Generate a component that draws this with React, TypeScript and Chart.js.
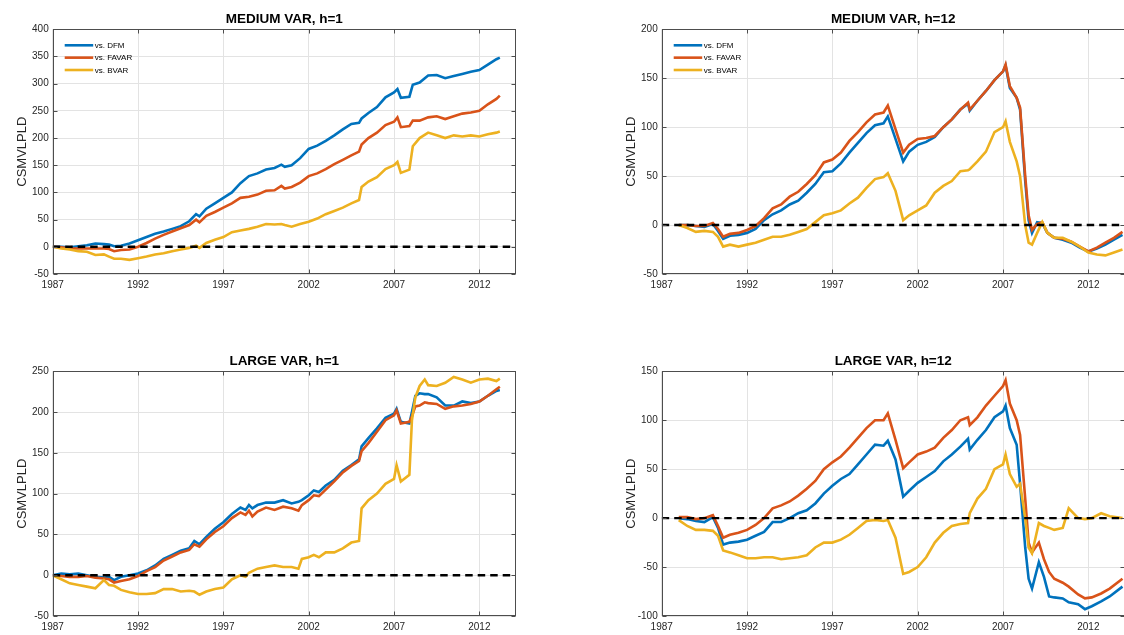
import React, { useEffect, useRef } from 'react';
import { Chart, registerables } from 'chart.js';

Chart.register(...registerables);

const FONT = "'Liberation Sans', Arial, Helvetica, sans-serif";

const xTickYears = [1987, 1992, 1997, 2002, 2007, 2012];
const seriesLabels = ['vs. DFM', 'vs. FAVAR', 'vs. BVAR'];
const seriesColors = ['#0072BD', '#D95319', '#EDB120'];
const yLabel = 'CSMVLPLD';
const xMin = 1987;
const xMax = 2014.13;

// ---------- MEDIUM VAR, h=1 ----------
const medH1Dates = [1987, 1987.5, 1988, 1988.5, 1989, 1989.5, 1990, 1990.3, 1990.6, 1991, 1991.5, 1992, 1992.5, 1993, 1993.5, 1994, 1994.5, 1995, 1995.4, 1995.6, 1996, 1996.5, 1997, 1997.5, 1998, 1998.5, 1999, 1999.5, 2000, 2000.4, 2000.6, 2001, 2001.5, 2002, 2002.5, 2003, 2003.5, 2004, 2004.5, 2004.95, 2005.1, 2005.5, 2006, 2006.5, 2007, 2007.2, 2007.4, 2007.9, 2008.1, 2008.5, 2009, 2009.5, 2010, 2010.5, 2011, 2011.5, 2012, 2012.5, 2013, 2013.2];
const medH1DFM = [0, 0, -1, 1, 3, 6, 5, 4, 1, 2, 6, 12, 18, 24, 28, 33, 38, 47, 60, 56, 70, 80, 90, 100, 117, 130, 135, 142, 145, 151, 147, 150, 163, 180, 186, 195, 205, 216, 226, 228, 236, 246, 257, 275, 284, 290, 274, 276, 298, 302, 315, 316, 310, 314, 318, 322, 325, 335, 345, 348];
const medH1FAVAR = [0, -1, -3, -3, -3, -3, -3, -4, -8, -6, -5, 0, 7, 15, 22, 28, 34, 40, 50, 45, 57, 64, 72, 80, 90, 92, 96, 103, 104, 112, 107, 110, 118, 130, 135, 143, 152, 160, 168, 175, 188, 200, 210, 224, 230, 238, 220, 222, 232, 232, 238, 240, 235, 240, 245, 247, 250, 262, 272, 278];
const medH1BVAR = [0, -3, -5, -8, -9, -15, -14, -18, -22, -22, -24, -21, -18, -14, -12, -8, -5, -2, 2, -2, 7, 13, 18, 27, 30, 33, 37, 42, 41, 42, 40, 37, 42, 46, 52, 60, 66, 72, 80, 86, 110, 120, 128, 143, 150, 156, 136, 142, 185, 200, 210, 205, 200, 205, 203, 205, 203, 207, 210, 212];

// ---------- MEDIUM VAR, h=12 ----------
const medH12Dates = [1988, 1988.5, 1989, 1989.5, 1990, 1990.3, 1990.6, 1991, 1991.5, 1992, 1992.5, 1993, 1993.5, 1994, 1994.5, 1995, 1995.5, 1996, 1996.5, 1997, 1997.5, 1998, 1998.5, 1999, 1999.5, 2000, 2000.25, 2000.7, 2001.15, 2001.5, 2002, 2002.5, 2003, 2003.5, 2004, 2004.5, 2004.95, 2005.05, 2005.5, 2006, 2006.5, 2007, 2007.15, 2007.4, 2007.8, 2008, 2008.3, 2008.5, 2008.7, 2009, 2009.3, 2009.6, 2010, 2010.5, 2011, 2011.5, 2012, 2012.5, 2013, 2013.5, 2014];
const medH12DFM = [0, 0, -1, -2, 1, -6, -14, -11, -10, -8, -4, 5, 11, 15, 21, 25, 33, 42, 54, 55, 63, 74, 84, 94, 102, 104, 111, 88, 65, 75, 82, 85, 90, 100, 108, 118, 124, 117, 127, 137, 148, 157, 163, 140, 130, 118, 45, 5, -8, 3, 2, -8, -13, -15, -18, -23, -27, -24, -20, -15, -10];
const medH12FAVAR = [0, 0, -1, -1, 2, -4, -12, -9, -8, -5, -1, 7, 17, 21, 29, 34, 42, 51, 64, 67, 74, 86, 95, 105, 113, 115, 122, 98, 74, 82, 88, 89, 91, 100, 108, 118, 125, 118, 127, 137, 148, 157, 164, 142, 130, 120, 50, 10, -5, 1, 3, -8, -13, -14, -17, -22, -27, -23, -18, -13, -7];
const medH12BVAR = [0, -3, -7, -6, -7, -12, -22, -20, -22, -20, -18, -15, -12, -12, -10, -7, -4, 3, 10, 12, 15, 22, 28, 38, 47, 49, 53, 35, 5, 10, 15, 20, 33, 40, 45, 55, 56, 57, 65, 75, 95, 100, 106, 85, 65, 50, 0, -18, -20, -8, 3, -8, -13, -13, -17, -22, -28, -30, -31, -28, -25];

// ---------- LARGE VAR, h=1 ----------
const largeH1Dates = [1987, 1987.5, 1988, 1988.5, 1989, 1989.5, 1990, 1990.3, 1990.6, 1991, 1991.5, 1992, 1992.5, 1993, 1993.5, 1994, 1994.5, 1995, 1995.3, 1995.6, 1996, 1996.5, 1997, 1997.5, 1998, 1998.3, 1998.5, 1998.7, 1999, 1999.5, 2000, 2000.5, 2001, 2001.4, 2001.6, 2002, 2002.3, 2002.6, 2003, 2003.5, 2004, 2004.5, 2004.95, 2005.1, 2005.5, 2006, 2006.5, 2007, 2007.15, 2007.4, 2007.9, 2008.05, 2008.25, 2008.5, 2008.8, 2009, 2009.5, 2010, 2010.5, 2011, 2011.5, 2012, 2012.5, 2013, 2013.2];
const largeH1DFM = [0, 2, 1, 2, 0, -2, -3, -2, -6, -2, 0, 2, 6, 12, 20, 25, 30, 33, 42, 38, 47, 57, 65, 75, 83, 80, 86, 82, 86, 89, 89, 92, 88, 90, 92, 98, 104, 102, 110, 117, 128, 135, 142, 158, 168, 180, 193, 198, 204, 188, 186, 200, 220, 223, 222, 222, 218, 208, 208, 213, 211, 213, 220, 226, 227];
const largeH1FAVAR = [0, -1, -2, -2, -1, -3, -4, -5, -9, -7, -5, -1, 5, 10, 18, 23, 28, 31, 38, 35, 44, 53, 60, 70, 77, 74, 79, 72, 78, 83, 80, 84, 82, 79, 86, 92, 98, 97, 105, 115, 126, 134, 140, 152, 162, 176, 190, 196, 202, 186, 188, 195, 207, 208, 212, 211, 210, 204, 207, 208, 210, 213, 220, 228, 231];
const largeH1BVAR = [0, -5, -10, -12, -14, -16, -6, -12, -13, -18, -21, -23, -23, -22, -17, -17, -20, -19, -20, -24, -20, -17, -15, -5, 0, -2, 3, 5, 8, 10, 12, 10, 10, 8, 20, 22, 25, 22, 28, 28, 33, 40, 42, 82, 92, 100, 112, 118, 135, 115, 123, 190, 218, 232, 240, 233, 232, 236, 243, 240, 236, 240, 241, 238, 241];

// ---------- LARGE VAR, h=12 ----------
const largeH12Dates = [1988, 1988.5, 1989, 1989.5, 1990, 1990.3, 1990.6, 1991, 1991.5, 1992, 1992.5, 1993, 1993.5, 1994, 1994.5, 1995, 1995.5, 1996, 1996.5, 1997, 1997.5, 1998, 1998.5, 1999, 1999.5, 2000, 2000.25, 2000.7, 2001.15, 2001.5, 2002, 2002.5, 2003, 2003.5, 2004, 2004.5, 2004.95, 2005.05, 2005.5, 2006, 2006.5, 2007, 2007.15, 2007.4, 2007.8, 2008, 2008.3, 2008.5, 2008.7, 2009.1, 2009.4, 2009.7, 2010, 2010.5, 2010.85, 2011.4, 2011.8, 2012.2, 2012.75, 2013.25, 2014];
const largeH12DFM = [0, -1, -3, -4, 1, -10, -27, -25, -24, -22, -18, -14, -4, -4, 0, 5, 8, 15, 25, 33, 40, 45, 55, 65, 75, 74, 79, 60, 22, 28, 36, 42, 48, 58, 65, 73, 81, 70, 80, 90, 103, 109, 115, 92, 75, 35, -30, -62, -72, -45, -60, -80, -81, -82, -86, -88, -93, -90, -85, -80, -70];
const largeH12FAVAR = [1, 1, -1, 0, 3, -8, -20, -17, -15, -12, -7, 0, 10, 13, 17, 23, 30, 38, 50, 57, 63, 72, 82, 92, 100, 100, 107, 80, 51, 57, 65, 68, 72, 82, 90, 100, 103, 95, 103, 115, 125, 135, 141, 117, 100, 85, 20, -25, -35, -25, -42, -55, -62, -66, -70, -78, -82, -81, -77, -72, -62];
const largeH12BVAR = [-2, -8, -12, -12, -13, -18, -33, -35, -38, -41, -41, -40, -40, -42, -41, -40, -38, -30, -25, -25, -22, -17, -10, -3, -2, -3, -2, -20, -57, -55, -50, -40, -25, -15, -8, -6, -5, 5, 20, 30, 50, 55, 65, 45, 32, 35, 0, -30, -36, -5, -8, -10, -12, -10, 10, 0, -1, 0, 5, 2, 0];

type PanelSpec = {
  title: string;
  dates: number[];
  series: number[][];
  yMin: number;
  yMax: number;
  legend: boolean;
  left: number;
  top: number;
};

const panels: PanelSpec[] = [
  { title: 'MEDIUM VAR, h=1', dates: medH1Dates, series: [medH1DFM, medH1FAVAR, medH1BVAR], yMin: -50, yMax: 400, legend: true, left: 0, top: 0 },
  { title: 'MEDIUM VAR, h=12', dates: medH12Dates, series: [medH12DFM, medH12FAVAR, medH12BVAR], yMin: -50, yMax: 200, legend: true, left: 609, top: 0 },
  { title: 'LARGE VAR, h=1', dates: largeH1Dates, series: [largeH1DFM, largeH1FAVAR, largeH1BVAR], yMin: -50, yMax: 250, legend: false, left: 0, top: 342 },
  { title: 'LARGE VAR, h=12', dates: largeH12Dates, series: [largeH12DFM, largeH12FAVAR, largeH12BVAR], yMin: -100, yMax: 150, legend: false, left: 609, top: 342 },
];

const CW = 530;
const CH = 300;

const framePlugin = {
  id: 'matlabFrame',
  afterDraw(chart: any) {
    const { ctx, chartArea: a, scales } = chart;
    ctx.save();
    ctx.strokeStyle = '#4d4d4d';
    ctx.lineWidth = 1;
    const L = Math.round(a.left) + 0.5;
    const R = Math.round(a.right) - 0.5;
    const T = Math.round(a.top) + 0.5;
    const B = Math.round(a.bottom) - 0.5;
    ctx.strokeRect(L, T, R - L, B - T);
    ctx.beginPath();
    scales.x.ticks.forEach((t: any) => {
      const p = Math.round(scales.x.getPixelForValue(t.value)) + 0.5;
      ctx.moveTo(p, B); ctx.lineTo(p, B - 4);
      ctx.moveTo(p, T); ctx.lineTo(p, T + 4);
    });
    scales.y.ticks.forEach((t: any) => {
      const p = Math.round(scales.y.getPixelForValue(t.value)) + 0.5;
      ctx.moveTo(L, p); ctx.lineTo(L + 4, p);
      ctx.moveTo(R, p); ctx.lineTo(R - 4, p);
    });
    ctx.stroke();
    ctx.restore();
  },
};

function makeLegendPlugin(show: boolean) {
  return {
    id: 'inlineLegend',
    afterDraw(chart: any) {
      if (!show) return;
      const { ctx, chartArea: a } = chart;
      ctx.save();
      ctx.font = `8px ${FONT}`;
      ctx.textBaseline = 'middle';
      ctx.textAlign = 'left';
      const items = chart.data.datasets.filter((d: any) => d.label);
      items.forEach((d: any, i: number) => {
        const y = a.top + 16 + i * 12.35;
        ctx.strokeStyle = d.borderColor;
        ctx.lineWidth = 2.6;
        ctx.beginPath();
        ctx.moveTo(a.left + 12, y);
        ctx.lineTo(a.left + 40.5, y);
        ctx.stroke();
        ctx.fillStyle = '#000';
        ctx.fillText(d.label, a.left + 42, y + 0.5);
      });
      ctx.restore();
    },
  };
}

function Panel({ spec }: { spec: PanelSpec }) {
  const ref = useRef<HTMLCanvasElement | null>(null);
  useEffect(() => {
    if (!ref.current) return;
    const lineSets = spec.series.map((vals, i) => ({
      label: seriesLabels[i],
      data: spec.dates.map((x, j) => ({ x, y: vals[j] })),
      borderColor: seriesColors[i],
      backgroundColor: seriesColors[i],
      borderWidth: 2.6,
      pointRadius: 0,
      tension: 0,
      fill: false,
      order: 3 - i,
    }));
    const zeroSet = {
      label: '',
      data: [{ x: xMin, y: 0 }, { x: xMax, y: 0 }],
      borderColor: '#000',
      borderWidth: 2.4,
      borderDash: [7.5, 5],
      pointRadius: 0,
      fill: false,
      order: 0,
    };
    const chart = new Chart(ref.current, {
      type: 'line',
      data: { datasets: [...lineSets, zeroSet] as any },
      options: {
        animation: false,
        responsive: false,
        maintainAspectRatio: false,
        layout: { padding: { left: 0, right: CW - 515.7, top: 0, bottom: 0 } },
        plugins: {
          legend: { display: false },
          tooltip: { enabled: false },
          title: {
            display: true,
            fullSize: false,
            text: spec.title,
            color: '#000',
            font: { family: FONT, size: 13.5, weight: 'bold' },
            padding: { top: 10.7, bottom: 2.4 },
          },
        },
        scales: {
          x: {
            type: 'linear',
            min: xMin,
            max: xMax,
            afterBuildTicks: (s: any) => {
              s.ticks = xTickYears.map((v) => ({ value: v }));
            },
            afterFit: (s: any) => {
              s.height = 26;
            },
            ticks: {
              autoSkip: false,
              maxRotation: 0,
              padding: 5,
              color: '#262626',
              font: { family: FONT, size: 10 },
              callback: (v: any) => String(v),
            },
            grid: { color: '#e3e3e3', drawTicks: false },
            border: { display: false },
          },
          y: {
            type: 'linear',
            min: spec.yMin,
            max: spec.yMax,
            afterFit: (s: any) => {
              s.width = 52.7;
            },
            ticks: {
              stepSize: 50,
              padding: 4,
              color: '#262626',
              font: { family: FONT, size: 10 },
              callback: (v: any) => String(v),
            },
            grid: { color: '#e3e3e3', drawTicks: false },
            border: { display: false },
            title: {
              display: true,
              text: yLabel,
              color: '#262626',
              font: { family: FONT, size: 13 },
              padding: { top: 14.5, bottom: 0 },
            },
          },
        },
      } as any,
      plugins: [framePlugin, makeLegendPlugin(spec.legend)],
    });
    return () => chart.destroy();
  }, [spec]);
  return (
    <canvas
      ref={ref}
      width={CW}
      height={CH}
      style={{ position: 'absolute', left: spec.left, top: spec.top, width: CW, height: CH }}
    />
  );
}

export default function App() {
  return (
    <div
      style={{
        position: 'fixed',
        left: 0,
        top: 0,
        width: 1124,
        height: 635,
        overflow: 'hidden',
        background: '#ffffff',
      }}
    >
      {panels.map((p) => (
        <Panel key={p.title} spec={p} />
      ))}
    </div>
  );
}
